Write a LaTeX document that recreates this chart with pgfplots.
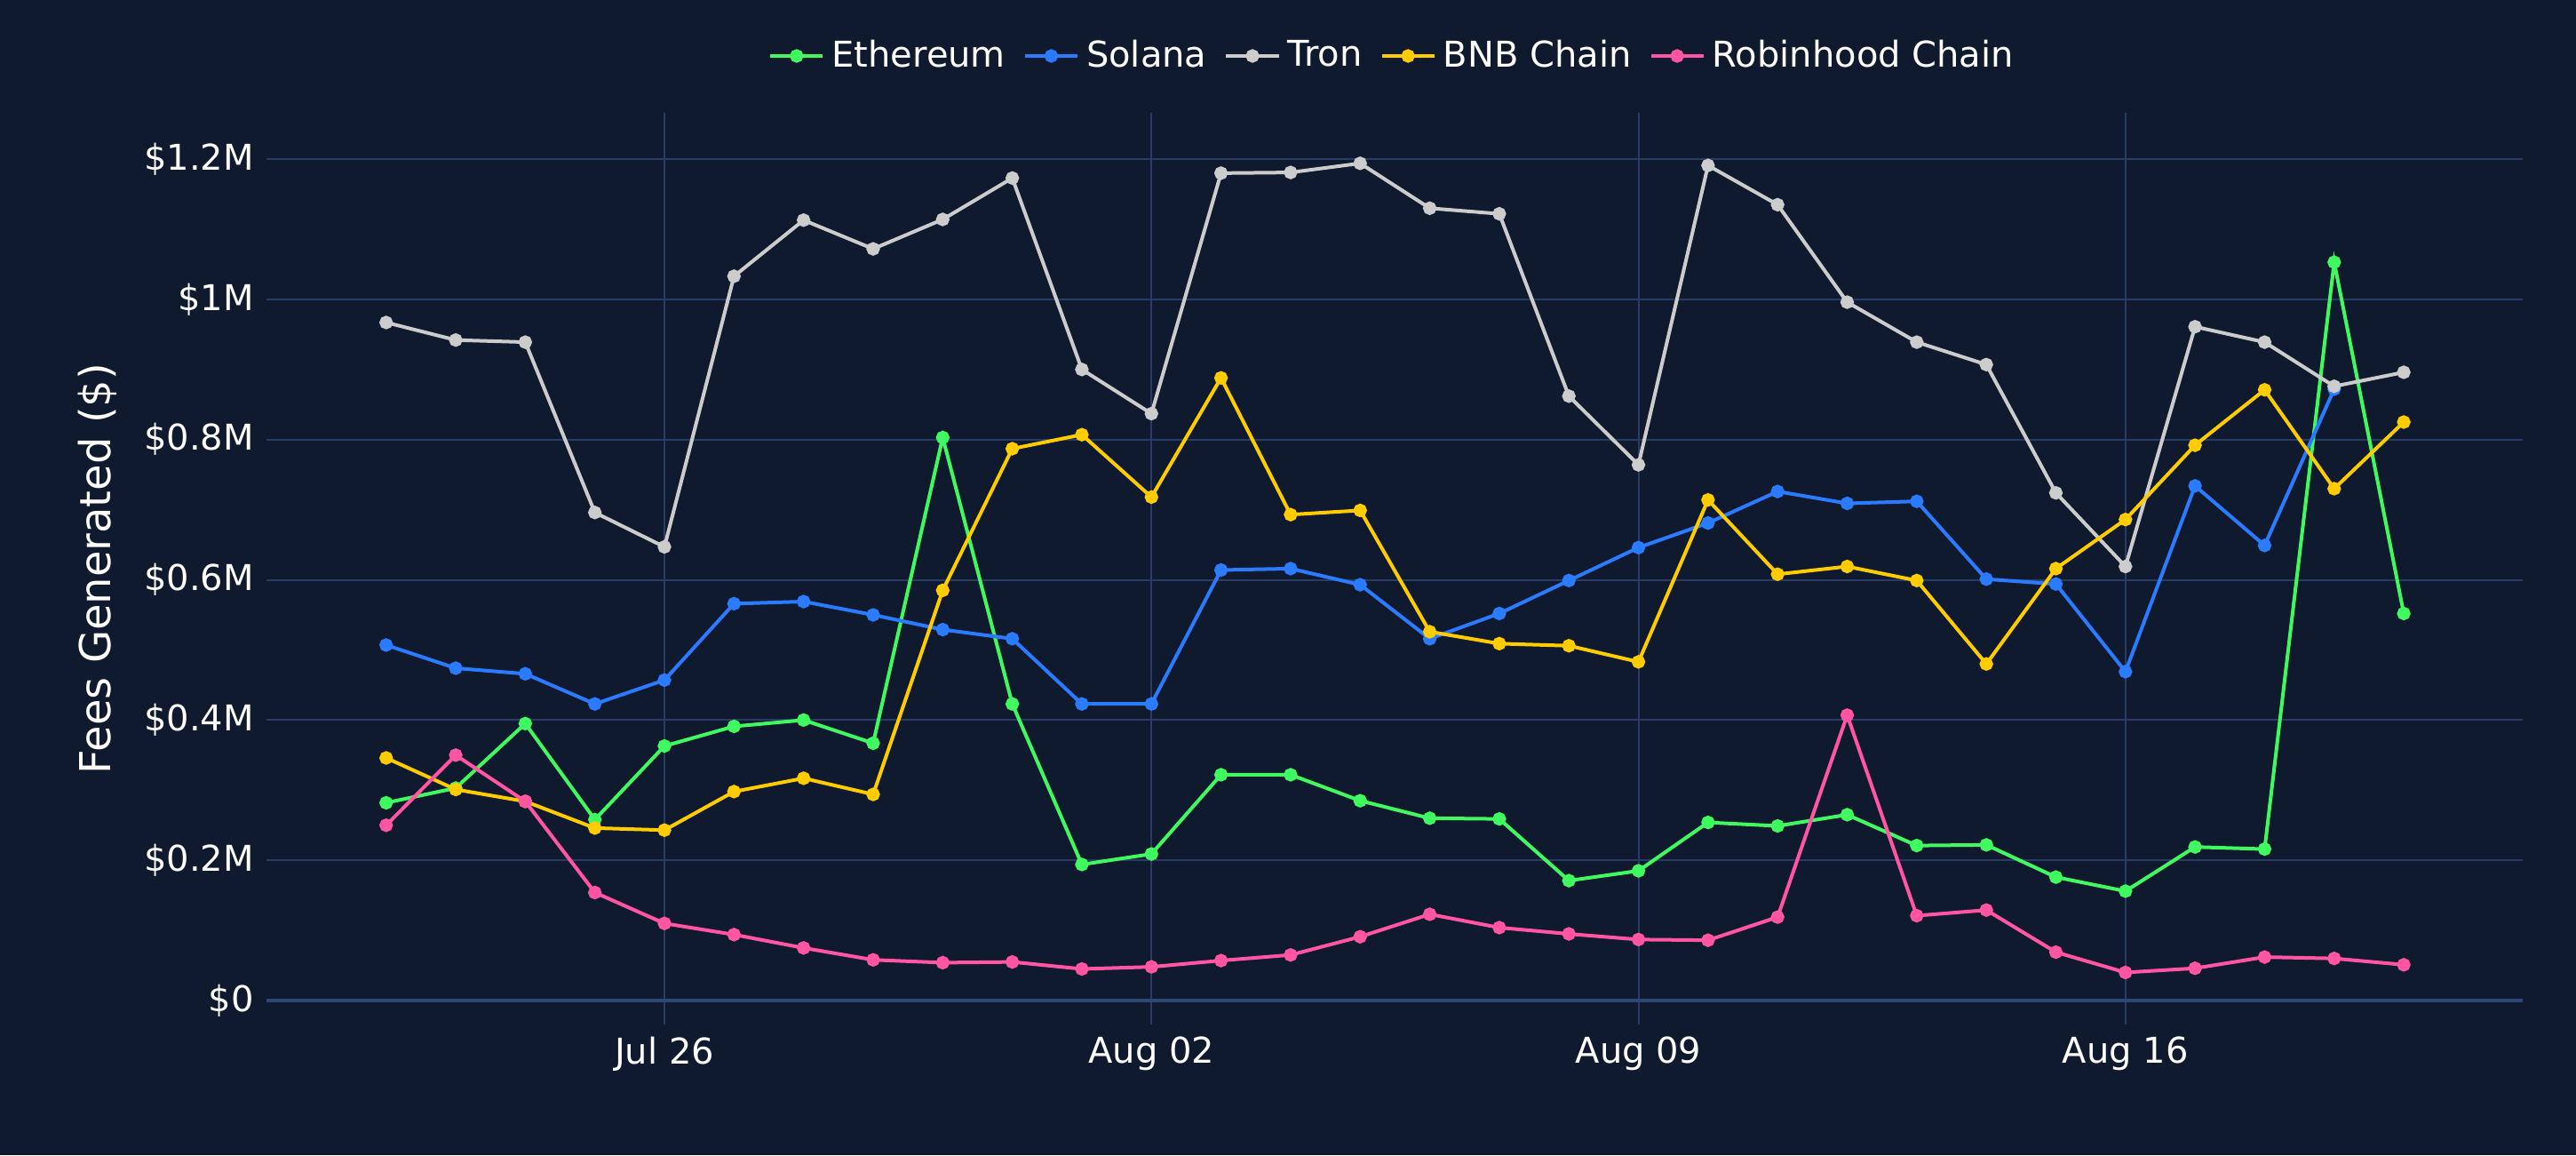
\documentclass[border=0pt]{standalone}
\usepackage{fontspec}
\setmainfont{DejaVu Sans}
\usepackage{pgfplots}
\pgfplotsset{compat=1.18}
\definecolor{bg}{HTML}{0F1A2E}
\definecolor{gridc}{HTML}{283C66}
\definecolor{zeroc}{HTML}{2F4775}
\definecolor{eth}{HTML}{40F860}
\definecolor{sol}{HTML}{2B7BFF}
\definecolor{tron}{HTML}{CCCCCC}
\definecolor{bnb}{HTML}{FFCC00}
\definecolor{rh}{HTML}{FF55A3}
\begin{document}
\begin{tikzpicture}
\fill[bg] (0,0) rectangle (725pt,325pt);
\begin{axis}[
  at={(75pt,36.75pt)}, anchor=south west,
  width=635pt, height=256.5pt, scale only axis,
  xmin=-1.72, xmax=30.71, ymin=-0.0342, ymax=1.266,
  axis line style={draw=none},
  major tick length=0pt,
  xtick={4,11,18,25}, xticklabels={Jul 26,Aug 02,Aug 09,Aug 16},
  ytick={0,0.2,0.4,0.6,0.8,1.0,1.2},
  yticklabels={\$0,\$0.2M,\$0.4M,\$0.6M,\$0.8M,\$1M,\$1.2M},
  grid=major, major grid style={gridc, line width=0.5pt},
  tick label style={white, font=\fontsize{10}{12}\selectfont},
  ylabel={Fees Generated (\$)},
  ylabel style={white, font=\fontsize{12}{14}\selectfont, at={(axis description cs:-0.0748,0.5)}, anchor=center},
  extra y ticks={0}, extra y tick labels={},
  extra y tick style={grid=major, major grid style={zeroc, line width=0.8pt}},
  legend columns=5,
  legend style={at={(0.5,1.0624)}, anchor=center, draw=none, fill=none, text=white,
    font=\fontsize{10}{12}\selectfont,
    /tikz/every even column/.append style={column sep=3pt}},
  legend image code/.code={\draw[mark repeat=2,mark phase=2] plot coordinates {(0pt,0pt) (7.4pt,0pt) (14.8pt,0pt)};},
  every axis plot/.append style={line width=1pt, mark=*, mark size=1.4pt},
]
\addplot[color=eth] coordinates {(0,0.282) (1,0.303) (2,0.395) (3,0.258) (4,0.363) (5,0.391) (6,0.400) (7,0.367) (8,0.803) (9,0.423) (10,0.194) (11,0.209) (12,0.322) (13,0.322) (14,0.285) (15,0.260) (16,0.259) (17,0.171) (18,0.185) (19,0.254) (20,0.249) (21,0.265) (22,0.221) (23,0.222) (24,0.176) (25,0.156) (26,0.219) (27,0.216) (28,1.053) (29,0.552)};
\addlegendentry{Ethereum}
\addplot[color=sol] coordinates {(0,0.507) (1,0.474) (2,0.466) (3,0.423) (4,0.457) (5,0.566) (6,0.569) (7,0.550) (8,0.529) (9,0.516) (10,0.423) (11,0.423) (12,0.614) (13,0.616) (14,0.593) (15,0.516) (16,0.552) (17,0.599) (18,0.646) (19,0.681) (20,0.726) (21,0.709) (22,0.712) (23,0.601) (24,0.594) (25,0.469) (26,0.734) (27,0.649) (28,0.872)};
\addlegendentry{Solana}
\addplot[color=tron] coordinates {(0,0.967) (1,0.942) (2,0.939) (3,0.696) (4,0.647) (5,1.033) (6,1.113) (7,1.072) (8,1.114) (9,1.173) (10,0.900) (11,0.837) (12,1.180) (13,1.181) (14,1.194) (15,1.130) (16,1.122) (17,0.862) (18,0.764) (19,1.191) (20,1.135) (21,0.996) (22,0.939) (23,0.907) (24,0.724) (25,0.619) (26,0.961) (27,0.939) (28,0.876) (29,0.896)};
\addlegendentry{Tron}
\addplot[color=bnb] coordinates {(0,0.346) (1,0.301) (2,0.284) (3,0.246) (4,0.243) (5,0.298) (6,0.317) (7,0.294) (8,0.585) (9,0.787) (10,0.807) (11,0.718) (12,0.888) (13,0.693) (14,0.699) (15,0.526) (16,0.509) (17,0.506) (18,0.483) (19,0.714) (20,0.608) (21,0.619) (22,0.599) (23,0.480) (24,0.616) (25,0.686) (26,0.792) (27,0.871) (28,0.730) (29,0.825)};
\addlegendentry{BNB Chain}
\addplot[color=rh] coordinates {(0,0.250) (1,0.350) (2,0.284) (3,0.154) (4,0.110) (5,0.094) (6,0.075) (7,0.058) (8,0.054) (9,0.055) (10,0.045) (11,0.048) (12,0.057) (13,0.065) (14,0.091) (15,0.123) (16,0.104) (17,0.095) (18,0.087) (19,0.086) (20,0.119) (21,0.407) (22,0.121) (23,0.129) (24,0.069) (25,0.040) (26,0.046) (27,0.062) (28,0.060) (29,0.051)};
\addlegendentry{Robinhood Chain}
\end{axis}
\end{tikzpicture}
\end{document}
